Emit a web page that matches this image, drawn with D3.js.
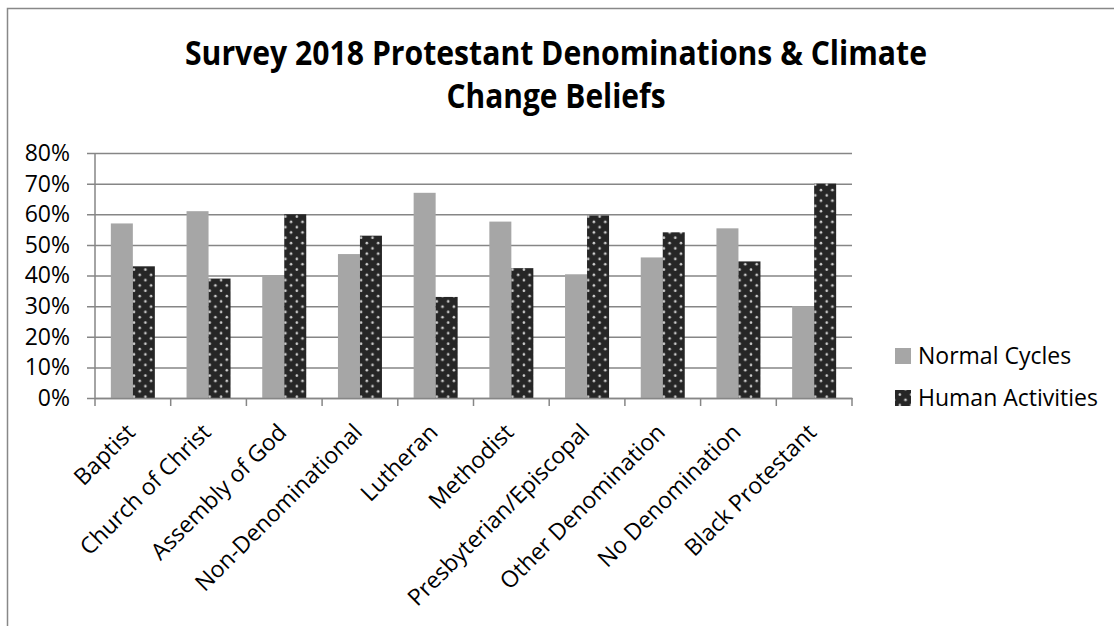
<!DOCTYPE html>
<html>
<head>
<meta charset="utf-8">
<script src="https://cdn.jsdelivr.net/npm/d3@7"></script>
<style>
  html, body { margin: 0; padding: 0; background: #ffffff; }
  svg { display: block; }
  text { font-family: "Open Sans", Lato, sans-serif; fill: #000; }
</style>
</head>
<body>
<svg id="chart" width="1114" height="626"></svg>
<script>
const categories = ["Baptist", "Church of Christ", "Assembly of God", "Non-Denominational", "Lutheran",
  "Methodist", "Presbyterian/Episcopal", "Other Denomination", "No Denomination", "Black Protestant"];
const seriesNames = ["Normal Cycles", "Human Activities"];
const normalCycles = [0.57, 0.61, 0.40, 0.47, 0.67, 0.576, 0.404, 0.459, 0.554, 0.30];
const humanActivities = [0.43, 0.39, 0.60, 0.53, 0.33, 0.424, 0.596, 0.541, 0.446, 0.70];
const yTicks = [0, 0.1, 0.2, 0.3, 0.4, 0.5, 0.6, 0.7, 0.8];
const titleLines = ["Survey 2018 Protestant Denominations & Climate", "Change Beliefs"];

const svg = d3.select("#chart");
const W = 1114, H = 626;
const plot = { left: 95, right: 852, top: 153, bottom: 398 };
const gridColor = "#868686";

// pattern for Human Activities
const defs = svg.append("defs");
const pat = defs.append("pattern").attr("id", "dots").attr("patternUnits", "userSpaceOnUse")
  .attr("width", 11.4).attr("height", 10.6).attr("x", 2).attr("y", 2);
pat.append("rect").attr("width", 11.4).attr("height", 10.6).attr("fill", "#262626");
pat.append("circle").attr("cx", 2.8).attr("cy", 2.6).attr("r", 1.3).attr("fill", "#d0d0d0");
pat.append("circle").attr("cx", 8.5).attr("cy", 7.9).attr("r", 1.3).attr("fill", "#d0d0d0");

const fills = ["#a6a6a6", "url(#dots)"];

// chart border
svg.append("rect").attr("x", 7.5).attr("y", 8.5).attr("width", W + 20).attr("height", H + 20)
  .attr("fill", "none").attr("stroke", "#888888").attr("stroke-width", 1.5);

// title
const titleWidths = [742, 219];
svg.append("g").selectAll("text").data(titleLines).join("text")
  .attr("x", 556).attr("y", (d, i) => 65 + i * 43)
  .attr("text-anchor", "middle").attr("font-size", 34).attr("font-weight", "bold")
  .attr("font-family", "Lato, 'Open Sans', sans-serif")
  .attr("textLength", (d, i) => titleWidths[i]).attr("lengthAdjust", "spacingAndGlyphs")
  .text(d => d);

const x = d3.scaleBand().domain(categories).range([plot.left, plot.right]).padding(0);
const xs = d3.scaleBand().domain(seriesNames).range([0, x.bandwidth()]).paddingInner(0).paddingOuter(0.72);
const y = d3.scaleLinear().domain([0, 0.8]).range([plot.bottom, plot.top]);

// y axis with gridlines
const yAxis = d3.axisLeft(y).tickValues(yTicks).tickFormat(d3.format(".0%"))
  .tickSizeInner(-(plot.right - plot.left)).tickSizeOuter(0).tickPadding(25);
const gy = svg.append("g").attr("transform", `translate(${plot.left},0)`).call(yAxis);
gy.select(".domain").remove();
gy.selectAll(".tick line").attr("stroke", gridColor).attr("stroke-width", 1.5)
  .attr("x1", -8).attr("x2", plot.right - plot.left);
gy.selectAll(".tick text").attr("font-size", 23).attr("font-family", "'Open Sans', Lato, sans-serif")
  .attr("fill", "#000");
svg.append("line").attr("x1", plot.left).attr("x2", plot.left).attr("y1", plot.top).attr("y2", plot.bottom)
  .attr("stroke", gridColor).attr("stroke-width", 1.5);

// bars
const data = categories.map((c, i) => ({ c, vals: [normalCycles[i], humanActivities[i]] }));
const groups = svg.append("g").selectAll("g").data(data).join("g")
  .attr("transform", d => `translate(${x(d.c)},0)`);
groups.selectAll("rect").data(d => d.vals.map((v, j) => ({ v, s: seriesNames[j], j })))
  .join("rect")
  .attr("x", d => xs(d.s)).attr("width", xs.bandwidth())
  .attr("y", d => y(d.v)).attr("height", d => y(0) - y(d.v))
  .attr("fill", d => fills[d.j]);

// x axis
const xAxis = d3.axisBottom(x).tickSize(0).tickSizeOuter(0).tickFormat("");
const gx = svg.append("g").attr("transform", `translate(0,${plot.bottom})`).call(xAxis);
gx.select(".domain").attr("stroke", gridColor).attr("stroke-width", 1.5);
const bounds = categories.map(c => x(c)).concat([plot.right]);
gx.selectAll(".bticks").data(bounds).join("line").attr("class", "bticks")
  .attr("x1", d => d).attr("x2", d => d).attr("y1", 0).attr("y2", 8)
  .attr("stroke", gridColor).attr("stroke-width", 1.5);
gx.selectAll(".lbl").data(categories).join("text").attr("class", "lbl")
  .attr("transform", d => `translate(${x(d) + x.bandwidth() / 2 - 2},${30}) rotate(-45)`)
  .attr("text-anchor", "end").attr("dy", "0.35em").attr("font-size", 23)
  .text(d => d);

// legend
const legend = svg.append("g").selectAll("g").data(seriesNames).join("g")
  .attr("transform", (d, i) => `translate(895,${348 + i * 42})`);
legend.append("rect").attr("width", 16).attr("height", 16).attr("fill", (d, i) => fills[i]);
legend.append("text").attr("x", 23).attr("y", 15.5).attr("font-size", 23).text(d => d);
</script>
</body>
</html>
